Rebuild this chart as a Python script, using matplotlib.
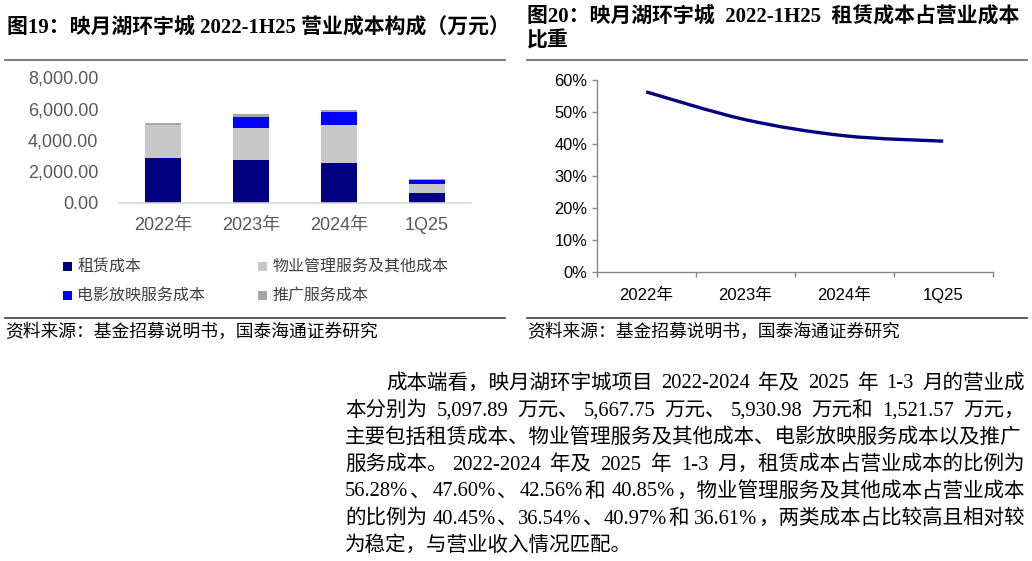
import re
import numpy as np
import matplotlib
matplotlib.use('Agg')
import matplotlib.pyplot as plt
from matplotlib.lines import Line2D
from matplotlib.path import Path
from matplotlib.patches import PathPatch

plt.rcParams['font.family'] = ['Liberation Sans', 'Noto Sans CJK SC']

# data (万元)
categories = ['2022年', '2023年', '2024年', '1Q25']
rent_cost = [2869.1, 2697.8, 2524.2, 621.6]
property_cost = [2062.1, 2071.0, 2429.9, 557.0]
cinema_cost = [0.0, 710.0, 840.0, 277.0]
promo_cost = [166.7, 189.0, 137.0, 66.0]
series_names = ['租赁成本', '物业管理服务及其他成本', '电影放映服务成本', '推广服务成本']
series_colors = ['#000080', '#c8c8c8', '#0000ff', '#a6a6a6']

rent_share = [0.5628, 0.4760, 0.4256, 0.4085]

title_left = '图19：映月湖环宇城 2022-1H25 营业成本构成（万元）'
title_right = ['图20：映月湖环宇城  2022-1H25  租赁成本占营业成本', '比重']
source = '资料来源：基金招募说明书，国泰海通证券研究'
paragraph = [
    '成本端看，映月湖环宇城项目 2022-2024 年及 2025 年 1-3 月的营业成',
    '本分别为 5,097.89 万元、5,667.75 万元、5,930.98 万元和 1,521.57 万元，',
    '主要包括租赁成本、物业管理服务及其他成本、电影放映服务成本以及推广',
    '服务成本。2022-2024 年及 2025 年 1-3 月，租赁成本占营业成本的比例为',
    '56.28%、47.60%、42.56%和 40.85%，物业管理服务及其他成本占营业成本',
    '的比例为 40.45%、36.54%、40.97%和 36.61%，两类成本占比较高且相对较',
    '为稳定，与营业收入情况匹配。',
]

W, H = 1032, 561
fig = plt.figure(figsize=(W / 100, H / 100), dpi=100)


def fx(x):
    return x / W


def fy(y):
    return 1 - y / H


def hline(x0, x1, y, color, lw):
    fig.add_artist(Line2D([fx(x0), fx(x1)], [fy(y), fy(y)], color=color, lw=lw,
                          transform=fig.transFigure))


serif_cjk = ['Liberation Serif', 'Noto Sans CJK SC']

# titles, rules, sources
fig.text(fx(7), fy(28), title_left, fontsize=15, fontweight='bold', family=serif_cjk, va='center')
fig.text(fx(527), fy(17), title_right[0], fontsize=15, fontweight='bold', family=serif_cjk, va='center')
fig.text(fx(527), fy(41), title_right[1], fontsize=15, fontweight='bold', family=serif_cjk, va='center')
hline(5, 505, 60, '#808080', 1.5)
hline(527, 1027, 60, '#808080', 1.5)
hline(5, 505, 318, '#404040', 1.2)
hline(527, 1027, 318, '#404040', 1.2)
fig.text(fx(5), fy(332), source, fontsize=12.8, family=serif_cjk, va='center')
fig.text(fx(527), fy(332), source, fontsize=12.8, family=serif_cjk, va='center')

# left chart: stacked bars
ax1 = fig.add_axes([fx(119), fy(202.7), fx(471) - fx(119), fy(77.3) - fy(202.7)])
x = np.arange(len(categories))
bottom = np.zeros(len(categories))
handles = []
for vals, name, col in zip([rent_cost, property_cost, cinema_cost, promo_cost], series_names, series_colors):
    b = ax1.bar(x, vals, 0.415, bottom=bottom, color=col, label=name, zorder=2)
    handles.append(b)
    bottom += np.array(vals)
ax1.set_xlim(-0.5, 3.5)
ax1.set_ylim(0, 8000)
ax1.set_yticks([0, 2000, 4000, 6000, 8000])
ax1.set_yticklabels(['{:,.2f}'.format(v) for v in [0, 2000, 4000, 6000, 8000]])
ax1.set_xticks(x)
ax1.set_xticklabels(categories)
for s in ['top', 'right', 'left']:
    ax1.spines[s].set_visible(False)
ax1.spines['bottom'].set_color('#d9d9d9')
ax1.spines['bottom'].set_linewidth(1.2)
ax1.tick_params(axis='y', length=0, pad=15, labelsize=13, labelcolor='#595959')
ax1.tick_params(axis='x', length=0, pad=10, labelsize=13, labelcolor='#595959')

order = [0, 2, 1, 3]
leg = ax1.legend([handles[i] for i in order], [series_names[i] for i in order], ncol=2,
                 loc='upper left', bbox_to_anchor=(fx(63), fy(259)), bbox_transform=fig.transFigure,
                 frameon=False, borderpad=0, borderaxespad=0, handlelength=0.55, handleheight=0.55,
                 handletextpad=0.35, columnspacing=3.3, labelspacing=0.75,
                 prop={'family': 'Noto Sans CJK SC', 'size': 11.5})
for t in leg.get_texts():
    t.set_color('#404040')

# right chart: smoothed line
ax2 = fig.add_axes([fx(596.7), fy(271.7), fx(992.7) - fx(596.7), fy(80) - fy(271.7)])
pts = np.column_stack([x, rent_share]).astype(float)
ext = np.vstack([pts[0], pts, pts[-1]])
verts = [tuple(pts[0])]
codes = [Path.MOVETO]
for i in range(len(pts) - 1):
    p0, p1, p2, p3 = ext[i], ext[i + 1], ext[i + 2], ext[i + 3]
    c1 = p1 + (p2 - p0) / 6
    c2 = p2 - (p3 - p1) / 6
    verts += [tuple(c1), tuple(c2), tuple(p2)]
    codes += [Path.CURVE4] * 3
ax2.add_patch(PathPatch(Path(verts, codes), fill=False, edgecolor='#000080', lw=2.4,
                        capstyle='butt', zorder=3))
ax2.set_xlim(-0.5, 3.5)
ax2.set_ylim(0, 0.6)
ax2.set_yticks(np.arange(0, 0.61, 0.1))
ax2.set_yticklabels(['{:.0f}%'.format(v * 100) for v in np.arange(0, 0.61, 0.1)])
ax2.set_xticks(np.arange(-0.5, 3.6, 1))
ax2.set_xticklabels([])
ax2.set_xticks(x, minor=True)
ax2.set_xticklabels(categories, minor=True)
for s in ['top', 'right']:
    ax2.spines[s].set_visible(False)
for s in ['left', 'bottom']:
    ax2.spines[s].set_color('#868686')
    ax2.spines[s].set_linewidth(1)
ax2.tick_params(axis='y', length=3.6, width=1, color='#868686', pad=3, labelsize=11.8)
ax2.tick_params(axis='x', which='major', direction='out', length=3.6, width=1, color='#868686')
ax2.tick_params(axis='x', which='minor', length=0, pad=12, labelsize=12)

# paragraph: lines justified between Latin/CJK runs and at spaces
r = fig.canvas.get_renderer()
para_size = 14.8
space_w = 5
line_y = [384, 411, 438, 465, 492, 519, 546]
x_right = 1025
for k, line in enumerate(paragraph):
    x0 = 386 if k == 0 else 345
    chunks, spaced = [], []
    for word_i, word in enumerate(line.split(' ')):
        runs = re.findall(r'[0-9A-Za-z.,%\-]+|[^0-9A-Za-z.,%\-]+', word)
        for j, run in enumerate(runs):
            chunks.append(run)
            spaced.append(word_i > 0 and j == 0)
    objs = [fig.text(0, fy(line_y[k]), c, fontsize=para_size, family=serif_cjk, va='center')
            for c in chunks]
    widths = [o.get_window_extent(renderer=r).width for o in objs]
    n_sp = sum(spaced)
    last = k == len(paragraph) - 1
    if last or len(chunks) == 1:
        gap = 1
    else:
        gap = (x_right - x0 - sum(widths) - space_w * n_sp) / (len(chunks) - 1)
    cx = x0
    for i, (o, w) in enumerate(zip(objs, widths)):
        if i > 0:
            cx += gap + (space_w if spaced[i] else 0)
        o.set_x(fx(cx))
        cx += w

fig.savefig('out.png', dpi=100)
